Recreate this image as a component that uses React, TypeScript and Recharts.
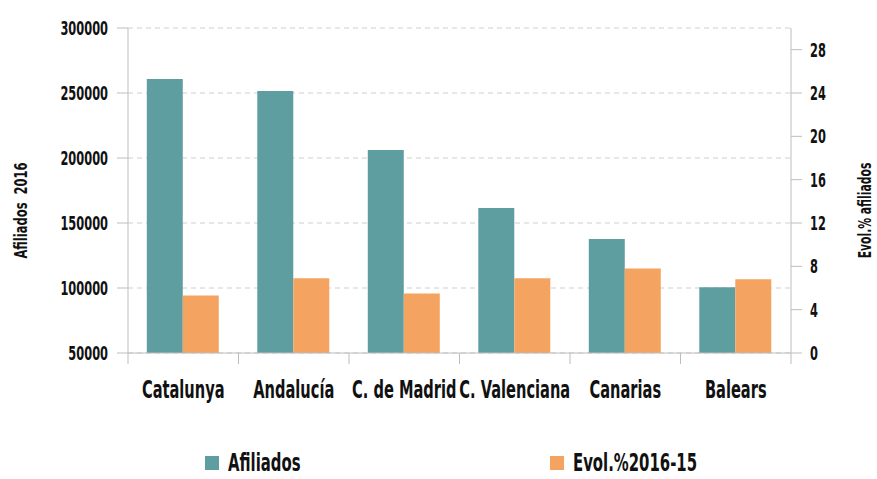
import { BarChart, Bar, XAxis, YAxis, CartesianGrid, Legend } from 'recharts';

const regions = ['Catalunya', 'Andalucía', 'C. de Madrid', 'C. Valenciana', 'Canarias', 'Balears'];
const afiliados = [260800, 251500, 206100, 161500, 137700, 100500];
const evolucion = [5.3, 6.9, 5.5, 6.9, 7.8, 6.8];
const leftTicks = [50000, 100000, 150000, 200000, 250000, 300000];
const rightTicks = [0, 4, 8, 12, 16, 20, 24, 28];

const data = regions.map((name, i) => ({
  name,
  afiliados: afiliados[i],
  evol: evolucion[i]
}));

const FONT = '"DejaVu Sans", sans-serif';
const TEAL = '#5f9ea0';
const ORANGE = '#f4a460';
const AXIS = '#bdbdbd';
const INK = '#111';

// texto estrecho: la fuente original es muy condensada, se comprime en horizontal
function Narrow({ x, y, size, sx, anchor, children, rotate }: any) {
  const t = rotate ? `translate(${x},${y}) rotate(-90) scale(${sx},1)` : `translate(${x},${y}) scale(${sx},1)`;
  return (
    <text
      transform={t}
      textAnchor={anchor}
      fontSize={size}
      fontWeight="bold"
      fill={INK}
      fontFamily={FONT}
      style={{ whiteSpace: 'pre' }}
    >
      {children}
    </text>
  );
}

// etiqueta de categoría + marca de separación a la izquierda (y a la derecha en la última)
function CategoryTick(props: any) {
  const { x, y, payload, index } = props;
  const half = payload.offset || 55;
  return (
    <g>
      <line x1={x - half} x2={x - half} y1={y} y2={y + 11} stroke={AXIS} />
      {index === regions.length - 1 && (
        <line x1={x + half} x2={x + half} y1={y} y2={y + 11} stroke={AXIS} />
      )}
      <Narrow x={x} y={y + 45} size={24} sx={0.61} anchor="middle">
        {payload.value}
      </Narrow>
    </g>
  );
}

function LeftTick({ x, y, payload }: any) {
  return (
    <Narrow x={x} y={y + 7} size={20} sx={0.57} anchor="end">
      {payload.value}
    </Narrow>
  );
}

function RightTick({ x, y, payload }: any) {
  return (
    <Narrow x={x} y={y + 7} size={20} sx={0.57} anchor="start">
      {payload.value}
    </Narrow>
  );
}

function SideLabel({ viewBox, value, dx, sx }: any) {
  const cx = viewBox.x + dx;
  const cy = viewBox.y + viewBox.height / 2 + 20;
  return (
    <Narrow x={cx + 6} y={cy} size={18} sx={sx} anchor="middle" rotate>
      {value}
    </Narrow>
  );
}

function LegendBox() {
  const item = (left: number, color: string, label: string) => (
    <div style={{ position: 'absolute', left, top: 0, height: 28, display: 'flex', alignItems: 'center', whiteSpace: 'nowrap' }}>
      <span style={{ width: 14, height: 14, background: color, display: 'inline-block', marginRight: 9, flex: 'none' }} />
      <span
        style={{
          fontSize: 24,
          fontWeight: 'bold',
          color: INK,
          lineHeight: '28px',
          display: 'inline-block',
          transform: 'scaleX(0.62)',
          transformOrigin: 'left center'
        }}
      >
        {label}
      </span>
    </div>
  );
  return (
    <div style={{ position: 'relative', width: 877, height: 28, fontFamily: FONT }}>
      {item(205, TEAL, 'Afiliados')}
      {item(550, ORANGE, 'Evol.%2016-15')}
    </div>
  );
}

export default function App() {
  return (
    <div style={{ position: 'absolute', left: 0, top: 0, background: '#fff', fontFamily: FONT }}>
      <BarChart
        width={877}
        height={479}
        data={data}
        margin={{ top: 28, right: 0, left: 0, bottom: 0 }}
        barCategoryGap="17%"
        barGap={0}
      >
        <CartesianGrid vertical={false} yAxisId="left" stroke="#cfcfcf" strokeDasharray="5 4" />
        <XAxis
          dataKey="name"
          height={126}
          interval={0}
          tickSize={0}
          tickMargin={0}
          tickLine={false}
          axisLine={{ stroke: AXIS }}
          tick={<CategoryTick />}
        />
        <YAxis
          yAxisId="left"
          width={128}
          domain={[50000, 300000]}
          ticks={leftTicks}
          allowDataOverflow
          tickSize={11}
          tickMargin={9}
          axisLine={{ stroke: AXIS }}
          tickLine={{ stroke: AXIS }}
          tick={<LeftTick />}
          label={{ value: 'Afiliados  2016', content: (p: any) => <SideLabel {...p} value="Afiliados  2016" dx={21} sx={0.64} /> }}
        />
        <YAxis
          yAxisId="right"
          orientation="right"
          width={86}
          domain={[0, 30]}
          ticks={rightTicks}
          tickSize={11}
          tickMargin={8}
          axisLine={{ stroke: AXIS }}
          tickLine={{ stroke: AXIS }}
          tick={<RightTick />}
          label={{ value: 'Evol.% afiliados', content: (p: any) => <SideLabel {...p} value="Evol.% afiliados" dx={74} sx={0.6} /> }}
        />
        <Legend
          verticalAlign="middle"
          align="center"
          layout="horizontal"
          wrapperStyle={{ top: 449, left: 0, width: 877 }}
          content={() => <LegendBox />}
        />
        <Bar yAxisId="left" dataKey="afiliados" name="Afiliados" fill={TEAL} isAnimationActive={false} />
        <Bar yAxisId="right" dataKey="evol" name="Evol.%2016-15" fill={ORANGE} isAnimationActive={false} />
      </BarChart>
    </div>
  );
}
